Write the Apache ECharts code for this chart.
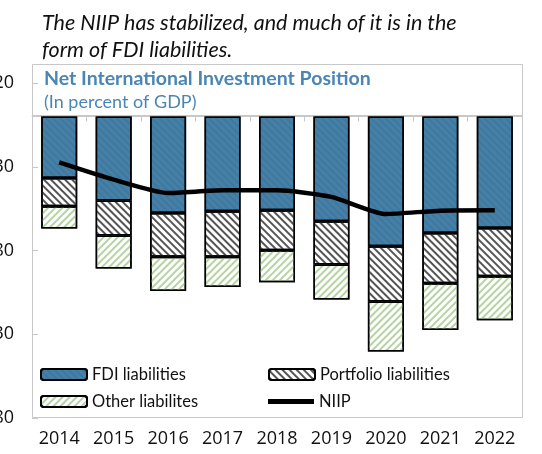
<!doctype html>
<html lang="en">

<head>
	<meta charset="UTF-8">
	<title>Net International Investment Position</title>
	<script src="https://cdn.jsdelivr.net/npm/echarts@6/dist/echarts.min.js"></script>
	<style>
		html, body { margin: 0; padding: 0; background: #fff; }
		#chart { width: 542px; height: 454px; }
	</style>
</head>

<body>
	<div id="chart"></div>

	<script>
		// data (percent of GDP)
		var years = ['2014', '2015', '2016', '2017', '2018', '2019', '2020', '2021', '2022'];
		var fdi = [-36.7, -50.2, -57.6, -56.6, -56.0, -62.6, -77.4, -69.5, -66.5];
		var portfolio = [-16.9, -20.9, -26.2, -27.2, -23.8, -25.7, -33.0, -30.1, -28.8];
		var other = [-13.3, -19.6, -20.4, -18.0, -19.1, -20.9, -29.9, -27.8, -26.4];
		var niip = [-27.4, -37.7, -45.7, -44.1, -44.1, -48.0, -58.2, -56.2, -56.0];
		var yTicks = { min: -180, max: 20, step: 50 };

		var blue = '#4a86b4';
		var font = 'Lato';
		var numFont = 'Open Sans';

		var chart = echarts.init(document.getElementById('chart'));

		var legendBase = {
			orient: 'horizontal',
			itemWidth: 46,
			itemHeight: 11,
			padding: 0,
			selectedMode: false,
			textStyle: { fontFamily: font, fontSize: 16.5, color: '#111' }
		};

		option = {
			animation: false,
			aria: { enabled: true, decal: { show: true } },
			title: [
				{
					text: 'The NIIP has stabilized, and much of it is in the\nform of FDI liabilities.',
					left: 37,
					top: 5,
					textStyle: {
						fontFamily: font,
						fontStyle: 'italic',
						fontWeight: 'normal',
						fontSize: 21.5,
						lineHeight: 27,
						color: '#111'
					}
				},
				{
					text: 'Net International Investment Position',
					subtext: '(In percent of GDP)',
					left: 39,
					top: 64,
					itemGap: 4,
					textStyle: { fontFamily: font, fontWeight: 'bold', fontSize: 19.5, color: blue },
					subtextStyle: { fontFamily: font, fontSize: 18, color: blue }
				}
			],
			graphic: [
				{
					type: 'rect',
					z: -1,
					shape: { x: 32.5, y: 64.5, width: 490, height: 353 },
					style: { fill: 'none', stroke: '#c8c8c8', lineWidth: 1 }
				},
				{
					type: 'rect',
					z: -1,
					shape: { x: 32.5, y: 64.5, width: 490, height: 51 },
					style: { fill: '#fff', stroke: '#c8c8c8', lineWidth: 1 }
				}
			],
			legend: [
				Object.assign({ data: ['FDI liabilities'], left: 40, top: 366 }, legendBase),
				Object.assign({ data: ['Portfolio liabilities'], left: 268, top: 366 }, legendBase),
				Object.assign({ data: ['Other liabilites'], left: 40, top: 393 }, legendBase),
				Object.assign({}, legendBase, {
					data: [{ name: 'NIIP', icon: 'rect' }],
					left: 268, top: 393,
					itemHeight: 5
				})
			],
			grid: { left: 32, right: 20, top: 83, bottom: 36, outerBoundsMode: 'none', containLabel: false },
			xAxis: [
				{
					type: 'category',
					data: years,
					axisLine: { onZero: true, lineStyle: { color: '#c8c8c8' } },
					axisTick: { show: true, length: 5, lineStyle: { color: '#c8c8c8' } },
					axisLabel: { show: false }
				},
				{
					type: 'category',
					data: years,
					position: 'bottom',
					axisLine: { show: false, onZero: false },
					axisTick: { show: false },
					axisLabel: { interval: 0, margin: 12, fontFamily: numFont, fontSize: 18, color: '#111' }
				}
			],
			yAxis: {
				type: 'value',
				min: yTicks.min,
				max: yTicks.max,
				interval: yTicks.step,
				axisLine: { show: false },
				axisTick: { show: true, inside: true, length: 6, lineStyle: { color: '#c8c8c8' } },
				axisLabel: { margin: 18, fontFamily: numFont, fontSize: 18, color: '#111' },
				splitLine: { show: false }
			},
			series: [
				{
					name: 'FDI liabilities',
					type: 'bar',
					stack: 'liab',
					barWidth: 36,
					data: fdi,
					itemStyle: {
						color: '#4580a8',
						borderColor: '#000',
						borderWidth: 1.5,
						decal: {
							symbol: 'rect', symbolSize: 1,
							dashArrayX: [1, 0], dashArrayY: [2, 3],
							rotation: Math.PI / 4,
							color: 'rgba(0,0,0,0.07)'
						}
					}
				},
				{
					name: 'Portfolio liabilities',
					type: 'bar',
					stack: 'liab',
					barWidth: 36,
					data: portfolio,
					itemStyle: {
						color: '#fff',
						borderColor: '#000',
						borderWidth: 1.5,
						decal: {
							symbol: 'rect', symbolSize: 1,
							dashArrayX: [1, 0], dashArrayY: [2, 2.5],
							rotation: Math.PI / 4,
							color: '#555'
						}
					}
				},
				{
					name: 'Other liabilites',
					type: 'bar',
					stack: 'liab',
					barWidth: 36,
					data: other,
					itemStyle: {
						color: '#fff',
						borderColor: '#000',
						borderWidth: 1.5,
						decal: {
							symbol: 'rect', symbolSize: 1,
							dashArrayX: [1, 0], dashArrayY: [1.5, 3],
							rotation: -Math.PI / 4,
							color: '#b6d3a2'
						}
					}
				},
				{
					name: 'NIIP',
					type: 'line',
					data: niip,
					smooth: 0.2,
					symbol: 'none',
					z: 5,
					lineStyle: { color: '#000', width: 4.5 },
					itemStyle: { color: '#000' }
				}
			]
		};
		chart.setOption(option);
	</script>
</body>

</html>
